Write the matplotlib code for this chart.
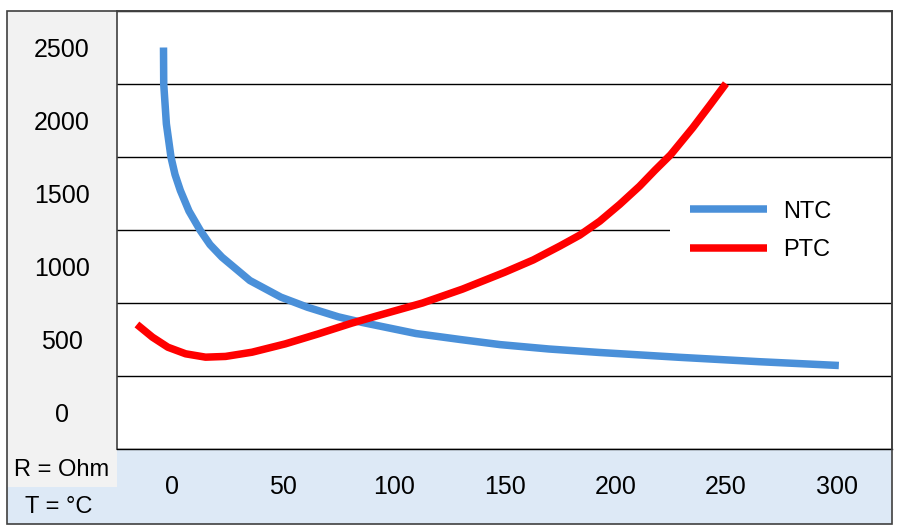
import matplotlib
matplotlib.use("Agg")
import matplotlib.pyplot as plt
from matplotlib.patches import Rectangle

plt.rcParams['font.family'] = ['Liberation Sans', 'DejaVu Sans']

# values
t_ntc = [-4, -3.9, -2.7, -0.6, 1.2, 3.6, 7.5, 12.6, 17, 22.4, 35, 49, 61, 75, 86, 110, 130,
         148, 170, 193, 229, 265, 301]
r_ntc = [2500, 2250, 1977, 1747, 1630, 1521, 1380, 1247, 1150, 1064, 904, 790, 721, 655, 616,
         541, 500, 465, 435, 411, 378, 348, 322]

t_ptc = [-16, -9, -2, 6, 15, 24, 36, 51, 66, 81, 92, 113, 131, 150, 163, 175, 184, 193, 202,
         211, 218, 225, 235, 243, 250]
r_ptc = [603, 516, 447, 402, 379, 384, 413, 470, 539, 612, 660, 750, 845, 960, 1045, 1140, 1215,
         1310, 1425, 1550, 1660, 1765, 1950, 2110, 2253]

x_ticks = [0, 50, 100, 150, 200, 250, 300]
y_ticks = [0, 500, 1000, 1500, 2000, 2500]
grid_levels = [-250, 250, 750, 1250, 1750, 2250, 2750]

W, H = 900, 531


def fx(px):
    return px / W


def fy(py):
    return 1 - py / H


fig = plt.figure(figsize=(9, 5.31), dpi=100)

# table-like backgrounds
gray = '#f2f2f2'
blue_bg = '#dde9f6'
fig.add_artist(Rectangle((fx(7), fy(487)), fx(117) - fx(7), fy(11) - fy(487),
                         transform=fig.transFigure, facecolor=gray, edgecolor='none', zorder=0))
fig.add_artist(Rectangle((fx(7), fy(524)), fx(117) - fx(7), fy(487) - fy(524),
                         transform=fig.transFigure, facecolor=blue_bg, edgecolor='none', zorder=0))
fig.add_artist(Rectangle((fx(117), fy(524)), fx(892) - fx(117), fy(449) - fy(524),
                         transform=fig.transFigure, facecolor=blue_bg, edgecolor='none', zorder=0))

ax = fig.add_axes([fx(117), fy(449), fx(892) - fx(117), fy(11) - fy(449)])
ax.set_xlim(-25, 325)
ax.set_ylim(-250, 2750)

ax.plot(t_ntc, r_ntc, color='#4a90d9', lw=5.4, solid_capstyle='butt',
        solid_joinstyle='round', label='NTC', zorder=3)
ax.plot(t_ptc, r_ptc, color='#ff0000', lw=5.4, solid_capstyle='butt',
        solid_joinstyle='round', label='PTC', zorder=3)

ax.set_yticks(grid_levels, minor=True)
ax.grid(which='minor', axis='y', color='black', lw=1)
ax.set_axisbelow(True)

ax.set_xticks(x_ticks)
ax.set_xticklabels([str(v) for v in x_ticks], fontsize=18)
ax.set_yticks(y_ticks)
ax.set_yticklabels([str(v) for v in y_ticks], fontsize=18)
ax.tick_params(which='both', length=0)
ax.tick_params(axis='y', pad=55 * 0.72)
ax.tick_params(axis='x', pad=38 * 0.72)
for lab in ax.get_yticklabels():
    lab.set_horizontalalignment('center')
for lab in ax.get_xticklabels():
    lab.set_verticalalignment('center')

for side in ['top', 'right', 'left']:
    ax.spines[side].set_color('#404040')
    ax.spines[side].set_linewidth(1.2)
ax.spines['bottom'].set_color('black')
ax.spines['bottom'].set_linewidth(1.0)

# white block behind the legend hides the grid line there
ax.add_patch(Rectangle((fx(670), fy(268)), fx(891) - fx(670), fy(194) - fy(268),
                       transform=fig.transFigure, facecolor='white', edgecolor='none',
                       zorder=2))

leg = ax.legend(loc='center left', bbox_to_anchor=(fx(670), fy(231)),
                bbox_transform=fig.transFigure, fontsize=17, frameon=False,
                handlelength=3.25, handletextpad=0.7, labelspacing=0.7,
                borderpad=0.85, borderaxespad=0)

fig.text(fx(62), fy(470), 'R = Ohm', fontsize=17, ha='center', va='center')
fig.text(fx(59), fy(507), 'T = °C', fontsize=17, ha='center', va='center')

# outer frame
fig.add_artist(Rectangle((fx(7), fy(524)), fx(892) - fx(7), fy(11) - fy(524),
                         transform=fig.transFigure, facecolor='none', edgecolor='#404040',
                         lw=1.2, zorder=5))

fig.savefig('out.png', dpi=100)
